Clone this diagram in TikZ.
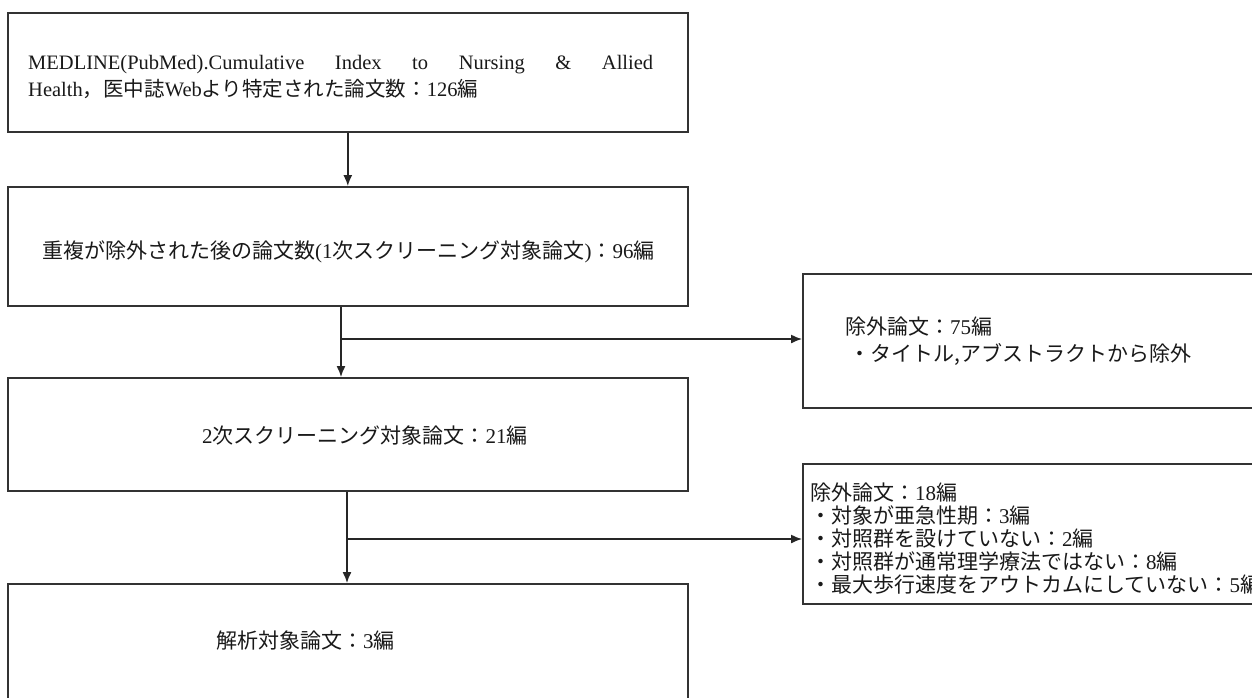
\documentclass[tikz,border=0pt]{standalone}
\usepackage{fontspec}
\setmainfont{Liberation Serif}
\newfontfamily\jpfont{Noto Sans CJK JP}
\newcommand\J[1]{{\jpfont #1}}
\usetikzlibrary{arrows.meta}
\begin{document}
\begin{tikzpicture}[x=1pt,y=-1pt,
  box/.style={draw=black!80, line width=1.6pt, anchor=north west, inner sep=0pt, fill=white},
  txt/.style={inner sep=0pt, anchor=west, text=black!90, font=\fontsize{21}{23}\selectfont},
  arr/.style={draw=black!85, line width=1.4pt, -{Latex[length=11pt,width=9pt]}}]
\useasboundingbox (0,0) rectangle (1252,697);
\fill[white] (0,0) rectangle (1252,697);
% boxes
\node[box, minimum width=680pt, minimum height=119pt] (b1) at (7,12) {};
\node[box, minimum width=680pt, minimum height=119pt] (b2) at (7,186) {};
\node[box, minimum width=680pt, minimum height=113pt] (b3) at (7,377) {};
\node[box, minimum width=680pt, minimum height=130pt] (b5) at (7,583) {};
\node[box, minimum width=460pt, minimum height=134pt] (b4) at (802,273) {};
\node[box, minimum width=460pt, minimum height=140pt] (b6) at (802,463) {};
% texts
\node[txt, text width=625pt, align=justify, font=\fontsize{20.5}{27}\selectfont] (t1) at (28,77)
  {MEDLINE(PubMed).Cumulative Index to Nursing \& Allied\linebreak Health\J{，医中誌}Web\J{より特定された論文数：}126\J{編}};
\node[txt] (t2) at (42,252) {\J{重複が除外された後の論文数}(1\J{次スクリーニング対象論文})\J{：}96\J{編}};
\node[txt] (t3) at (202,435) {2\J{次スクリーニング対象論文：}21\J{編}};
\node[txt] (t5) at (216,640) {\J{解析対象論文：}3\J{編}};
\node[txt, align=left, font=\fontsize{21}{27}\selectfont] (t4) at (845,341)
  {\J{除外論文：}75\J{編}\\ \hspace*{4pt}\J{・タイトル,アブストラクトから除外}};
\node[txt, align=left] (t6) at (810,539)
  {\J{除外論文：}18\J{編}\\
   \J{・対象が亜急性期：}3\J{編}\\
   \J{・対照群を設けていない：}2\J{編}\\
   \J{・対照群が通常理学療法ではない：}8\J{編}\\
   \J{・最大歩行速度をアウトカムにしていない：}5\J{編}};
% connectors
\coordinate (j1) at (341,339);
\coordinate (j2) at (347,539);
\draw[arr] (b1.south) -- (b2.north);
\draw[arr] (b2.south -| j1) -- (b3.north -| j1);
\draw[arr] (j1) -- (j1 -| b4.west);
\draw[arr] (b3.south -| j2) -- (b5.north -| j2);
\draw[arr] (j2) -- (j2 -| b6.west);
\end{tikzpicture}
\end{document}
